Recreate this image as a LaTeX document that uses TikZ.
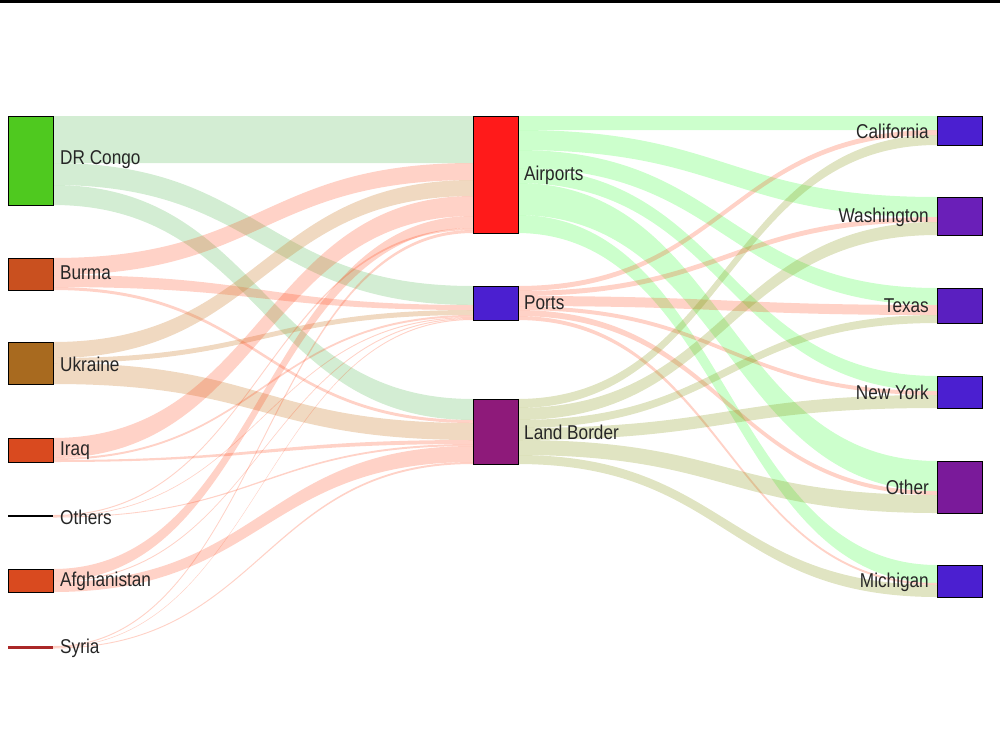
\documentclass[tikz,border=0pt]{standalone}
\usepackage{fontspec}
\setmainfont{Liberation Sans}[FakeStretch=0.86]
\definecolor{syriac}{RGB}{170,40,40}
\begin{document}
\begin{tikzpicture}[x=1pt,y=-1pt,
  box/.style={draw=black,line width=0.8pt,minimum width=45pt,inner sep=0pt,anchor=north west},
  lbl/.style={font=\fontsize{20}{20}\selectfont,text=black!85,inner sep=0pt},
  fg/.style={fill=green!60!black!50!white,opacity=0.35},
  fa/.style={fill=green!80!white,opacity=0.25},
  fs/.style={fill=red!60!orange,opacity=0.22},
  fu/.style={fill=brown!80!orange,opacity=0.3},
  fl/.style={fill=olive!80!green,opacity=0.25}]
\useasboundingbox (0,0) rectangle (1000,750);
\fill[black] (0,0) rectangle (1000,3);
\newcommand\flw[7]{\fill[#1] (#2,#3) .. controls ({(#2+#5)/2},#3) and ({(#2+#5)/2},#6) .. (#5,#6) -- (#5,#7) .. controls ({(#2+#5)/2},#7) and ({(#2+#5)/2},#4) .. (#2,#4) -- cycle;}
% left -> middle
\flw{fg}{53}{116}{163}{473}{116}{163}
\flw{fg}{53}{163}{185}{473}{286}{305}
\flw{fg}{53}{185}{205}{473}{399}{420}
\flw{fs}{53}{258}{275}{473}{163}{180}
\flw{fs}{53}{275}{287}{473}{305}{310}
\flw{fs}{53}{287}{290}{473}{420}{423}
\flw{fu}{53}{342}{358}{473}{180}{196}
\flw{fu}{53}{358}{363}{473}{310}{315}
\flw{fu}{53}{363}{384}{473}{423}{440}
\flw{fs}{53}{438}{458}{473}{196}{216}
\flw{fs}{53}{458}{460}{473}{315}{317}
\flw{fs}{53}{460}{462}{473}{440}{444}
\flw{fs}{53}{515}{516}{473}{228}{230}
\flw{fs}{53}{516}{516.7}{473}{317}{318}
\flw{fs}{53}{516.7}{517.5}{473}{444}{446}
\flw{fs}{53}{569}{581}{473}{216}{228}
\flw{fs}{53}{581}{582}{473}{318}{319}
\flw{fs}{53}{582}{592}{473}{446}{462}
\flw{fs}{53}{646}{647}{473}{230}{233}
\flw{fs}{53}{647}{647.6}{473}{319}{320}
\flw{fs}{53}{647.6}{648.5}{473}{462}{464}
% middle -> right
\flw{fa}{517}{116}{130}{937}{116}{130}
\flw{fa}{517}{130}{150}{937}{197}{217}
\flw{fa}{517}{150}{168}{937}{288}{305}
\flw{fa}{517}{168}{183}{937}{376}{391}
\flw{fa}{517}{183}{215}{937}{461}{491}
\flw{fa}{517}{215}{233}{937}{565}{583}
\flw{fs}{517}{286}{291}{937}{130}{135}
\flw{fs}{517}{291}{296}{937}{217}{222}
\flw{fs}{517}{296}{306}{937}{305}{315}
\flw{fs}{517}{306}{310}{937}{391}{395}
\flw{fs}{517}{310}{316}{937}{491}{495}
\flw{fs}{517}{316}{320}{937}{583}{585}
\flw{fl}{517}{399}{408}{937}{135}{145}
\flw{fl}{517}{408}{420}{937}{222}{235}
\flw{fl}{517}{420}{428}{937}{315}{323}
\flw{fl}{517}{428}{440}{937}{395}{408}
\flw{fl}{517}{440}{455}{937}{495}{513}
\flw{fl}{517}{455}{464}{937}{585}{597}
% left nodes
\node[box,fill={rgb,255:red,79;green,201;blue,31},minimum height=89pt] (drc) at (8,116) {};
\node[box,fill={rgb,255:red,201;green,80;blue,31},minimum height=32pt] (bur) at (8,258) {};
\node[box,fill={rgb,255:red,168;green,106;blue,31},minimum height=42pt] (ukr) at (8,342) {};
\node[box,fill={rgb,255:red,217;green,74;blue,31},minimum height=24pt] (irq) at (8,438) {};
\draw[black,line width=1.5pt] (8,516) -- (53,516) coordinate (oth);
\node[box,fill={rgb,255:red,217;green,74;blue,31},minimum height=23pt] (afg) at (8,569) {};
\draw[syriac,line width=3pt] (8,647) -- (53,647) coordinate (syr);
\node[lbl,anchor=west] at (60,160) {DR Congo};
\node[lbl,anchor=west] at (60,273) {Burma};
\node[lbl,anchor=west] at (60,364) {Ukraine};
\node[lbl,anchor=west] at (60,451) {Iraq};
\node[lbl,anchor=west] at (60,517) {Others};
\node[lbl,anchor=west] at (60,581) {Afghanistan};
\node[lbl,anchor=west] at (60,648) {Syria};
% middle nodes
\node[box,fill={rgb,255:red,255;green,26;blue,26},minimum height=117pt] (air) at (473,116) {};
\node[box,fill={rgb,255:red,75;green,31;blue,208},minimum height=34pt] (prt) at (473,286) {};
\node[box,fill={rgb,255:red,142;green,26;blue,122},minimum height=65pt] (lb) at (473,399) {};
\node[lbl,anchor=west] at (524,175) {Airports};
\node[lbl,anchor=west] at (524,303) {Ports};
\node[lbl,anchor=west] at (524,432) {Land Border};
% right nodes
\node[box,fill={rgb,255:red,75;green,31;blue,208},minimum height=29pt] (cal) at (937,116) {};
\node[box,fill={rgb,255:red,106;green,31;blue,184},minimum height=38pt] (was) at (937,197) {};
\node[box,fill={rgb,255:red,90;green,31;blue,192},minimum height=35pt] (tex) at (937,288) {};
\node[box,fill={rgb,255:red,75;green,31;blue,208},minimum height=32pt] (ny) at (937,376) {};
\node[box,fill={rgb,255:red,122;green,26;blue,154},minimum height=52pt] (oth2) at (937,461) {};
\node[box,fill={rgb,255:red,75;green,31;blue,208},minimum height=32pt] (mi) at (937,565) {};
\node[lbl,anchor=east] at (929,131) {California};
\node[lbl,anchor=east] at (929,217) {Washington};
\node[lbl,anchor=east] at (929,306) {Texas};
\node[lbl,anchor=east] at (929,392) {New York};
\node[lbl,anchor=east] at (929,487) {Other};
\node[lbl,anchor=east] at (929,582) {Michigan};
\end{tikzpicture}
\end{document}
